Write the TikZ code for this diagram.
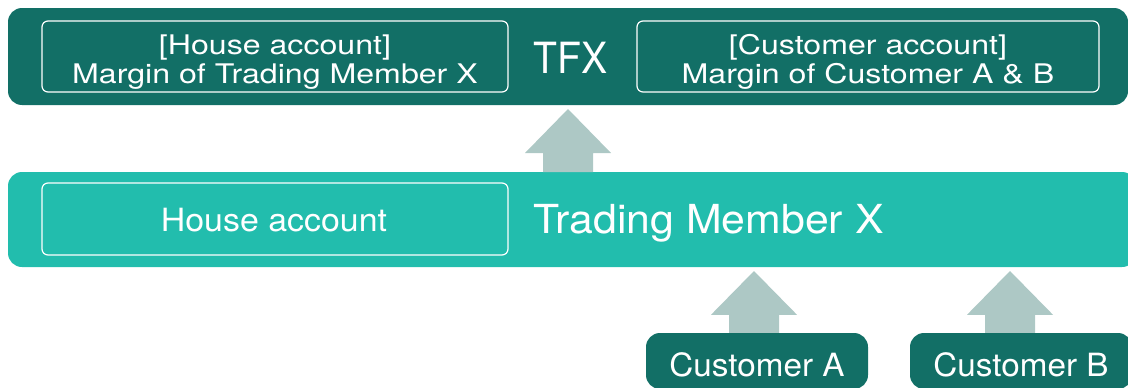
\documentclass[tikz,border=0pt]{standalone}
\usepackage{fontspec}
\setmainfont{TeX Gyre Heros}
\newfontfamily\fMargin[FakeStretch=1.19]{TeX Gyre Heros}
\newfontfamily\fHouse[FakeStretch=1.06]{TeX Gyre Heros}
\newfontfamily\fCust[FakeStretch=1.04]{TeX Gyre Heros}
\newfontfamily\fTM[FakeStretch=1.07]{TeX Gyre Heros}
\newfontfamily\fTFX[FakeStretch=0.91]{TeX Gyre Heros}
\usetikzlibrary{calc}
\definecolor{darkteal}{HTML}{126F66}
\definecolor{lightteal}{HTML}{22BDAD}
\definecolor{arrowgrey}{HTML}{ADC8C5}
\tikzset{
  bar/.style={rounded corners=14pt, inner sep=0pt, outer sep=0pt},
  inbox/.style={draw=white, line width=1.2pt, rounded corners=6pt, inner sep=0pt},
  txt/.style={text=white, inner sep=0pt, anchor=base},
  margintxt/.style={txt, font=\fMargin\fontsize{27}{29}\selectfont},
  housetxt/.style={txt, font=\fHouse\fontsize{32}{34}\selectfont},
  tmtxt/.style={txt, font=\fTM\fontsize{40}{42}\selectfont},
  tfxtxt/.style={txt, font=\fTFX\fontsize{43}{45}\selectfont},
  custbox/.style={fill=darkteal, rounded corners=14pt, minimum width=222pt, minimum height=56pt, inner sep=0pt},
  custtxt/.style={txt, font=\fCust\fontsize{32}{34}\selectfont},
  blockarrow/.style={fill=arrowgrey, draw=none}
}
\begin{document}
\begin{tikzpicture}[x=1pt,y=-1pt]
\useasboundingbox (0,0) rectangle (1128,388);
\clip (0,0) rectangle (1128,388);
% bars
\node[bar, fill=darkteal, minimum width=1120pt, minimum height=97pt] (tfxbar) at (568,56.5) {};
\node[bar, fill=lightteal, minimum width=1128pt, minimum height=95pt] (tmbar) at (572,219.5) {};
% top inner boxes
\node[inbox, minimum width=466pt, minimum height=71pt] (house) at (275,56.5) {};
\node[margintxt] (houseA) at (275,54) {[House account]};
\node[margintxt] (houseB) at (275,83) {Margin of Trading Member X};
\node[inbox, minimum width=462pt, minimum height=71pt] (cust) at (868,56.5) {};
\node[margintxt] (custA) at (868,54) {[Customer account]};
\node[margintxt] (custB) at (868,83) {Margin of Customer A \& B};
\node[tfxtxt] (tfx) at (570.5,73) {TFX};
% middle
\node[inbox, minimum width=466pt, minimum height=72pt] (hacc) at (275,219) {};
\node[housetxt] (hacctxt) at (274,231) {House account};
\node[tmtxt] (tm) at (708.5,233) {Trading Member X};
% customers
\node[custbox] (ca) at (757,361) {};
\node[custtxt] (catxt) at (757,376) {Customer A};
\node[custbox] (cb) at (1021,361) {};
\node[custtxt] (cbtxt) at (1021,376) {Customer B};
% block arrows
\coordinate (a1b) at (tmbar.north -| 568,0);
\coordinate (a1t) at (568,109);
\fill[blockarrow] (a1b) ++(-25,0) -- ++(0,-19) -- ++(-18,0) -- (a1t) -- ($(a1b)+(43,-19)$) -- ++(-18,0) -- ++(0,19) -- cycle;
\coordinate (a2b) at ($(ca.north)+(-3,0)$);
\coordinate (a2t) at (754,271);
\fill[blockarrow] (a2b) ++(-25,0) -- ++(0,-18) -- ++(-18,0) -- (a2t) -- ($(a2b)+(43,-18)$) -- ++(-18,0) -- ++(0,18) -- cycle;
\coordinate (a3b) at ($(cb.north)+(-11,0)$);
\coordinate (a3t) at (1010,271);
\fill[blockarrow] (a3b) ++(-25,0) -- ++(0,-18) -- ++(-18,0) -- (a3t) -- ($(a3b)+(43,-18)$) -- ++(-18,0) -- ++(0,18) -- cycle;
\end{tikzpicture}
\end{document}
